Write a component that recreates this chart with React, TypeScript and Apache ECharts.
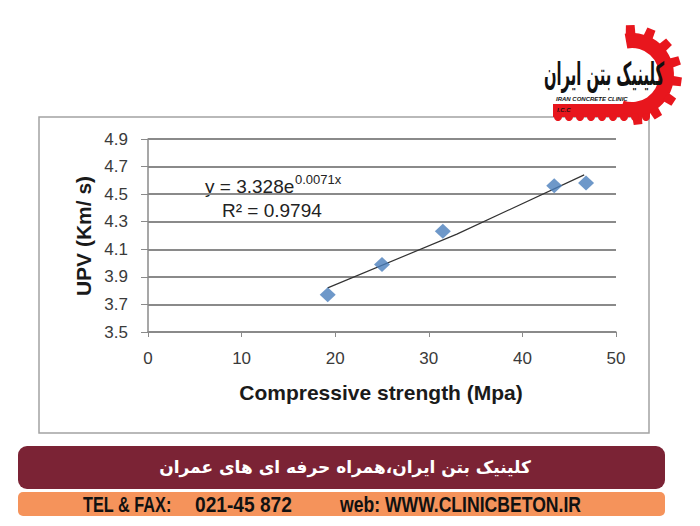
import React, { useEffect, useRef } from "react";
import * as echarts from "echarts";

// ---- data ----
const strengthMpa = [19.2, 25.0, 31.5, 43.4, 46.8];
const upvKms = [3.77, 3.99, 4.23, 4.56, 4.58];
const trendX = [19.2, 33.0, 46.6];
const trendY = [3.82, 4.21, 4.64];
const Y_MIN = 3.5;
const Y_MAX = 4.9;
const Y_STEP = 0.2;
const X_MIN = 0;
const X_MAX = 50;
const X_STEP = 10;
const equationMain = "y = 3.328e";
const equationSup = "0.0071x";
const rSquaredText = "R² = 0.9794";
const xTitle = "Compressive strength (Mpa)";
const yTitle = "UPV (Km/ s)";
const logoText = "کلینیک بتن ایران";
const logoSub = "IRAN CONCRETE CLINIC";
const logoAbbr = "I.C.C";
const bannerText = "کلینیک بتن ایران،همراه حرفه ای های عمران";
const telLabel = "TEL & FAX:";
const telNumber = "021-45 872";
const webText = "web: WWW.CLINICBETON.IR";

function gearTeeth(cx: number, cy: number, r1: number, r2: number, angles: number[]) {
  return angles.map((a) => {
    const rad = (d: number) => (d * Math.PI) / 180;
    const b = 7, t = 5;
    const pts = [
      [cx + r1 * Math.cos(rad(a - b)), cy + r1 * Math.sin(rad(a - b))],
      [cx + r2 * Math.cos(rad(a - t)), cy + r2 * Math.sin(rad(a - t))],
      [cx + r2 * Math.cos(rad(a + t)), cy + r2 * Math.sin(rad(a + t))],
      [cx + r1 * Math.cos(rad(a + b)), cy + r1 * Math.sin(rad(a + b))],
    ];
    return { type: "polygon", shape: { points: pts }, style: { fill: "#e8161d" }, z: 10 };
  });
}

const bannerFont = "bold 22px 'Liberation Sans', sans-serif";

export default function App() {
  const ref = useRef<HTMLDivElement>(null);
  useEffect(() => {
    if (!ref.current) return;
    const chart = echarts.init(ref.current, undefined, { renderer: "svg" });
    const scatterData = strengthMpa.map((x, i) => [x, upvKms[i] - Y_MIN]);
    const trendData = trendX.map((x, i) => [x, trendY[i] - Y_MIN]);
    const gcx = 632, gcy = 75;
    const bumps: any[] = [];
    for (let bx = 558; bx <= 646; bx += 11) {
      bumps.push({ type: "circle", shape: { cx: bx, cy: 117, r: 4 }, style: { fill: "#e8161d" }, z: 10 });
    }
    chart.setOption({
      animation: false,
      backgroundColor: "#ffffff",
      grid: { left: 148, top: 139, right: 84, bottom: 194, containLabel: false },
      xAxis: {
        type: "value",
        min: X_MIN,
        max: X_MAX,
        interval: X_STEP,
        axisLine: { show: true, lineStyle: { color: "#8a8a8a", width: 1.5 } },
        axisTick: { show: true, length: 5, lineStyle: { color: "#8a8a8a" } },
        splitLine: { show: false },
        axisLabel: { fontSize: 17, color: "#3a3a3a", margin: 18, fontFamily: "Liberation Sans" },
      },
      yAxis: {
        type: "value",
        min: 0,
        max: +(Y_MAX - Y_MIN).toFixed(1),
        interval: Y_STEP,
        axisLine: { show: true, lineStyle: { color: "#8a8a8a", width: 1.5 } },
        axisTick: { show: true, length: 7, lineStyle: { color: "#8a8a8a" } },
        splitLine: { show: true, lineStyle: { color: "#8a8a8a", width: 1.8 } },
        axisLabel: {
          fontSize: 17,
          color: "#3a3a3a",
          margin: 20,
          fontFamily: "Liberation Sans",
          formatter: (v: number) => (v + Y_MIN).toFixed(1),
        },
      },
      series: [
        {
          type: "line",
          data: trendData,
          showSymbol: false,
          lineStyle: { color: "#333333", width: 1.2 },
          z: 3,
        },
        {
          type: "scatter",
          data: scatterData,
          symbol: "diamond",
          symbolSize: [16, 15],
          itemStyle: { color: "#4a7ebb" },
          z: 4,
        },
      ],
      graphic: [
        { type: "rect", shape: { x: 39, y: 117, width: 610, height: 316 }, style: { fill: "transparent", stroke: "#a3a3a3", lineWidth: 1.5 }, z: 0 },
        { type: "text", x: 381, y: 392, style: { text: xTitle, font: "bold 21px 'Liberation Sans'", fill: "#1a1a1a", align: "center", verticalAlign: "middle" } },
        { type: "text", x: 83, y: 236, rotation: Math.PI / 2, style: { text: yTitle, font: "bold 21px 'Liberation Sans'", fill: "#1a1a1a", align: "center", verticalAlign: "middle" } },
        { type: "text", x: 205, y: 186, style: { text: equationMain, font: "19px 'Liberation Sans'", fill: "#222", align: "left", verticalAlign: "middle" } },
        { type: "text", x: 295, y: 179, style: { text: equationSup, font: "13px 'Liberation Sans'", fill: "#222", align: "left", verticalAlign: "middle" } },
        { type: "text", x: 222, y: 210, style: { text: rSquaredText, font: "19px 'Liberation Sans'", fill: "#222", align: "left", verticalAlign: "middle" } },
        // logo
        { type: "sector", shape: { cx: gcx, cy: gcy, r: 42, r0: 27, startAngle: (-100 * Math.PI) / 180, endAngle: (108 * Math.PI) / 180, clockwise: true }, style: { fill: "#e8161d" }, z: 10 },
        ...gearTeeth(gcx, gcy, 40, 50, [-92, -67, -42, -17, 8, 33, 58, 83]),
        { type: "rect", shape: { x: 553, y: 104, width: 97, height: 13 }, style: { fill: "#e8161d" }, z: 10 },
        ...bumps,
        { type: "text", x: 604, y: 74, scaleX: 0.46, style: { text: logoText, font: "bold 32px 'DejaVu Sans'", fill: "#111", align: "center", verticalAlign: "middle" }, z: 11 },
        { type: "text", x: 556, y: 99, style: { text: logoSub, font: "italic bold 6px 'Liberation Sans'", fill: "#111", align: "left", verticalAlign: "middle" }, z: 11 },
        { type: "text", x: 557, y: 110, style: { text: logoAbbr, font: "italic bold 6px 'Liberation Sans'", fill: "#111", align: "left", verticalAlign: "middle" }, z: 11 },
        // banners
        { type: "rect", shape: { x: 18, y: 446, width: 647, height: 43, r: 9 }, style: { fill: "#7b2335" }, z: 10 },
        { type: "text", x: 345, y: 467, style: { text: bannerText, font: "bold 17px 'DejaVu Sans'", fill: "#ffffff", align: "center", verticalAlign: "middle" }, z: 11 },
        { type: "rect", shape: { x: 18, y: 492, width: 647, height: 24, r: 5 }, style: { fill: "#f5935b" }, z: 10 },
        { type: "text", x: 83, y: 504, scaleX: 0.74, style: { text: telLabel, font: bannerFont, fill: "#111", align: "left", verticalAlign: "middle" }, z: 11 },
        { type: "text", x: 195, y: 504, scaleX: 0.87, style: { text: telNumber, font: bannerFont, fill: "#111", align: "left", verticalAlign: "middle" }, z: 11 },
        { type: "text", x: 340, y: 504, scaleX: 0.8, style: { text: webText, font: bannerFont, fill: "#111", align: "left", verticalAlign: "middle" }, z: 11 },
      ],
    });
    return () => chart.dispose();
  }, []);
  return <div ref={ref} style={{ position: "absolute", left: 0, top: 0, width: 700, height: 526 }} />;
}
